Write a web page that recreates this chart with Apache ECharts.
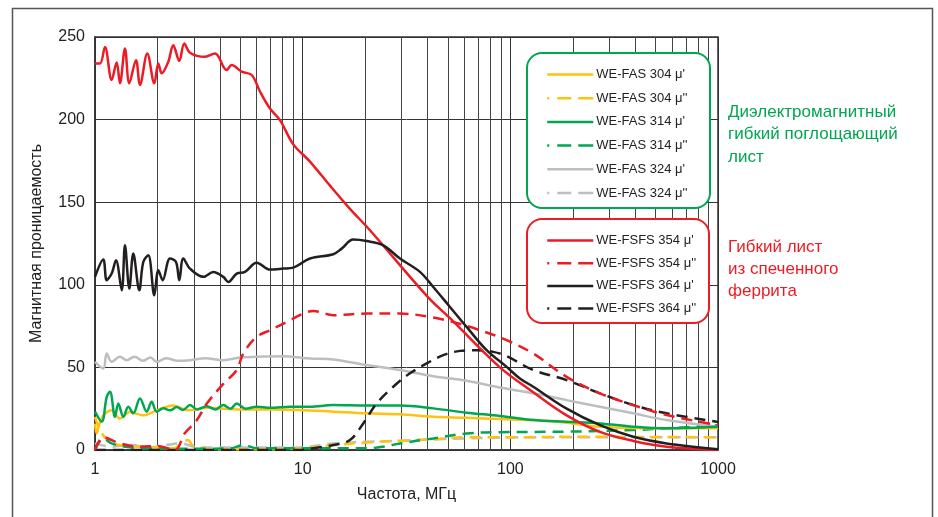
<!DOCTYPE html>
<html><head><meta charset="utf-8">
<script src="https://cdn.jsdelivr.net/npm/echarts@6/dist/echarts.min.js"></script>
<style>html,body{margin:0;padding:0;background:#fff}#c{width:938px;height:517px}</style>
</head><body><div id="c"></div><script>
// ---- data: [frequency MHz, permeability] ----
var fas304Re = [[1,16],[1.019,10],[1.057,17],[1.117,22],[1.2,24],[1.319,19],[1.474,23],[1.7,21],[1.982,24],[2.382,27],[2.8,24],[3.5,25.5],[5,24.5],[7,24.5],[9.705,24.2],[14.04,23.2],[20.33,22.2],[29.41,21.6],[42.55,20.1],[61.6,19.5],[89.1,18.7],[128.9,18.1],[186.7,16.5],[270,14.1],[540,13.1],[1000,13.1]];
var fas304Im = [[1,20],[1.057,12],[1.15,6],[1.3,3],[1.6,2],[2.0,1.5],[2.4,1],[2.6,4],[2.8,6],[3.0,2],[4,0.5],[6,0.5],[10,1],[14.04,3],[20.33,4.5],[29.41,5.6],[42.55,6.4],[61.6,7.7],[111.2,7.7],[200,8],[1000,7.7]];
var fas314Re = [[1,23.2],[1.077,17.1],[1.139,32.2],[1.181,35.3],[1.248,20.1],[1.295,28.2],[1.369,20.1],[1.447,26.2],[1.529,22.2],[1.647,31.2],[1.774,23.2],[1.875,29.2],[1.982,23.2],[2.133,25.2],[2.3,24],[2.474,26],[2.65,24.2],[2.867,27.2],[3.1,24.5],[3.45,26.5],[3.8,24.5],[4.147,27.2],[4.5,25],[4.811,28.2],[5.3,25],[6.004,26.2],[7,25.5],[8.688,26.2],[10.84,26.2],[14.04,27.2],[20.33,26.9],[29.41,26.9],[42.55,25.2],[61.6,22.6],[89.1,20.6],[128.9,18.1],[186.7,17.1],[270,16.1],[390.7,14.1],[565.6,13.1],[1000,14]];
var fas314Im = [[1,0],[1.096,7],[1.2,4],[1.4,2],[1.8,1],[3,0.8],[4.5,1],[5.2,3],[6,1],[10,1],[20.33,1],[24.44,2],[29.41,4],[42.55,7],[61.6,10],[89.1,10.8],[186.7,11.1],[390.7,12.1],[565.6,13.1],[1000,15]];
var fas324Re = [[1,53.4],[1.096,49.4],[1.139,58.4],[1.203,53.4],[1.319,56.4],[1.421,54.4],[1.55,56.5],[1.7,54],[1.85,56],[1.982,53.4],[2.2,55.5],[2.5,54],[2.867,54.4],[3.4,55.5],[4.147,54.4],[5,56],[6.004,56.4],[8.066,56.8],[10.84,55.4],[14.04,54.8],[20.33,51.4],[29.41,48.4],[42.55,44.7],[61.6,41.9],[89.1,37.8],[128.9,34.3],[186.7,30.2],[270,26.2],[390.7,22.2],[565.6,18.1],[1000,14]];
var fas324Im = [[1,4],[1.2,2],[1.5,3],[1.8,1.5],[2.2,3],[2.6,4],[3,2],[4,1.5],[6,1.5],[9.705,1.6],[14.04,4],[20.33,5],[29.41,5.6],[42.55,6.4],[61.6,7],[111.2,7.7],[270,7.7],[1000,7.7]];
var fsfs354Re = [[1,234],[1.057,234],[1.117,244],[1.203,224],[1.272,234.5],[1.319,222],[1.394,243],[1.463,222],[1.575,236],[1.647,221],[1.786,240],[1.930,222],[2.018,234],[2.095,228],[2.254,235],[2.382,245],[2.546,235.5],[2.692,246],[2.867,240.5],[3.386,238],[3.783,240],[4.306,230],[4.551,233],[5.086,229],[5.683,227],[6.230,217],[6.961,206.7],[7.777,199.7],[9.012,185],[10.84,174.6],[13.54,160],[16.89,146],[21.09,133],[40,92.7],[51.2,79.8],[89.1,50],[128.9,35],[186.7,21],[270,11],[390.7,5.5],[565.6,2],[1000,0]];
var fsfs354Im = [[1,0],[1.096,7.7],[1.319,4],[1.647,2],[1.982,2.4],[2.428,0],[2.7,10],[3.09,18],[3.45,28],[4.147,40],[4.811,48.4],[5.176,58.4],[6.004,68.5],[6.961,72.5],[8.375,77.5],[10.07,82.6],[11.25,84.2],[14.04,81.6],[20.33,82.6],[29.41,82.6],[42.55,80.2],[55.14,76.9],[71.4,72.5],[96,66.5],[128.9,58.4],[186.7,44.3],[270,34.3],[390.7,27.2],[565.6,21.2],[1000,15]];
var fsfs364Re = [[1,104.8],[1.096,115.3],[1.139,102.8],[1.203,106.8],[1.262,114.8],[1.345,96.7],[1.394,123.9],[1.463,97.7],[1.529,118.9],[1.634,96.7],[1.708,113.8],[1.805,117.9],[1.930,93.7],[2.018,108.8],[2.118,102.8],[2.296,115.9],[2.455,113.8],[2.546,102.8],[2.662,115.9],[2.867,109.8],[3.323,104.8],[3.711,107.8],[4.147,104.8],[4.383,101.7],[4.811,106.8],[5.275,107.8],[6.004,113.4],[6.961,109.2],[8.066,109.8],[9.012,110.4],[10.84,115.9],[14.04,118.5],[15.41,121.9],[17.52,127.4],[20.33,126.5],[24.44,123.9],[29.41,115.9],[36.71,107.8],[42.55,98.7],[51.2,86.6],[61.6,74.5],[76.9,60.4],[96,50.3],[111.2,43.3],[128.9,38.3],[186.7,25],[270,15],[390.7,8],[565.6,4],[1000,0.5]];
var fsfs364Im = [[1,0],[9.705,0],[11.25,1],[14.04,3],[16.89,6],[19.58,16.1],[22.72,28.2],[27.31,38.3],[32.86,46.4],[39.54,52.4],[47.53,57.4],[57.19,60],[68.8,60.4],[82.8,59.4],[96,56.8],[128.9,48.4],[186.7,42.3],[270,34.3],[390.7,27.2],[565.6,22.2],[1000,17]];

var legendNames = ["WE-FAS 304 μ'", "WE-FAS 304 μ''", "WE-FAS 314 μ'", "WE-FAS 314 μ''", "WE-FAS 324 μ'", "WE-FAS 324 μ''",
                   "WE-FSFS 354 μ'", "WE-FSFS 354 μ''", "WE-FSFS 364 μ'", "WE-FSFS 364 μ''"];
var minorLines = [2,3,4,5,6,7,8,9,20,30,40,50,60,70,80,90,200,300,400,500,600,700,800,900];
var yTicks = [0, 250, 50];
var xRange = [1, 1000];

var C = {yellow:'#FFC20E', green:'#00A650', grey:'#BCBEC0', red:'#ED1C24', black:'#231F20'};
var DASH = [11, 7];
var FONT = 'Liberation Sans, Arial, sans-serif';

function ser(name, data, color, dashed, z) {
  return {
    name: name, type: 'line', data: data, smooth: 0.35, symbol: 'none', showSymbol: false, z: z,
    lineStyle: {color: color, width: 2.5, type: dashed ? DASH : 'solid'},
    itemStyle: {color: color}
  };
}

var series = [
  {name: 'grid', type: 'line', data: [], silent: true,
   markLine: {silent: true, z: 1, symbol: ['none','none'], label: {show: false},
     lineStyle: {color: '#444', width: 1, type: 'solid'},
     data: minorLines.map(function(v){ return {xAxis: v}; })}},
  ser(legendNames[5], fas324Im, C.grey, true, 2),
  ser(legendNames[1], fas304Im, C.yellow, true, 2),
  ser(legendNames[3], fas314Im, C.green, true, 2),
  ser(legendNames[4], fas324Re, C.grey, false, 2),
  ser(legendNames[0], fas304Re, C.yellow, false, 2),
  ser(legendNames[2], fas314Re, C.green, false, 2),
  ser(legendNames[9], fsfs364Im, C.black, true, 2),
  ser(legendNames[7], fsfs354Im, C.red, true, 2),
  ser(legendNames[6], fsfs354Re, C.red, false, 2),
  ser(legendNames[8], fsfs364Re, C.black, false, 2)
];

function legItem(n, dashed) {
  var o = {name: n, itemStyle: {opacity: 0, borderWidth: 0}, lineStyle: {width: 2.5}};
  if (dashed) o.lineStyle.type = [2, 8, 14, 7, 14, 0];
  return o;
}

var chart = echarts.init(document.getElementById('c'), null, {renderer: 'canvas'});
chart.setOption({
  animation: false,
  backgroundColor: '#fff',
  textStyle: {fontFamily: FONT},
  grid: {left: 95, top: 37, right: 220, bottom: 67, show: true, borderColor: '#333', borderWidth: 1.5, containLabel: false},
  xAxis: {
    type: 'log', logBase: 10, min: xRange[0], max: xRange[1],
    name: 'Частота, МГц', nameLocation: 'middle', nameGap: 37,
    nameTextStyle: {fontSize: 16, color: '#222', fontFamily: FONT},
    axisLine: {show: true, lineStyle: {color: '#333', width: 1.5}},
    axisTick: {show: false},
    axisLabel: {fontSize: 16, color: '#222', margin: 12, fontFamily: FONT,
      formatter: function(v){ return String(Math.round(v)); }},
    splitLine: {show: true, lineStyle: {color: '#333', width: 1}},
    minorTick: {show: false}, minorSplitLine: {show: false}
  },
  yAxis: {
    type: 'value', min: yTicks[0], max: yTicks[1], interval: yTicks[2],
    name: 'Магнитная проницаемость', nameLocation: 'middle', nameGap: 50, nameRotate: 90,
    nameTextStyle: {fontSize: 16, color: '#222', fontFamily: FONT},
    axisLine: {show: true, lineStyle: {color: '#333', width: 1.5}},
    axisTick: {show: false},
    axisLabel: {fontSize: 16, color: '#222', margin: 10, fontFamily: FONT},
    splitLine: {show: true, lineStyle: {color: '#333', width: 1}}
  },
  legend: [
    {orient: 'vertical', left: 541, top: 63, itemWidth: 46, itemHeight: 14, itemGap: 10.7,
     itemStyle: {opacity: 0, borderWidth: 0},
     textStyle: {fontSize: 13, color: '#222', fontFamily: FONT, padding: [0, 0, 0, -2]},
     data: legendNames.slice(0, 6).map(function(n, i){ return legItem(n, i % 2 === 1); })},
    {orient: 'vertical', left: 541, top: 229, itemWidth: 46, itemHeight: 14, itemGap: 9.7,
     itemStyle: {opacity: 0, borderWidth: 0},
     textStyle: {fontSize: 13, color: '#222', fontFamily: FONT, padding: [0, 0, 0, -2]},
     data: legendNames.slice(6).map(function(n, i){ return legItem(n, i % 2 === 1); })}
  ],
  graphic: [
    {type: 'rect', z: 0, silent: true, shape: {x: 12.5, y: 8.5, width: 920, height: 540},
     style: {fill: 'none', stroke: '#555', lineWidth: 1.5}},
    {type: 'rect', z: 3, silent: true, shape: {x: 527, y: 53, width: 183, height: 155, r: 15},
     style: {fill: '#fff', stroke: C.green, lineWidth: 2}},
    {type: 'rect', z: 3, silent: true, shape: {x: 527, y: 219, width: 182, height: 104, r: 15},
     style: {fill: '#fff', stroke: C.red, lineWidth: 2}},
    {type: 'text', z: 5, left: 728, top: 101, silent: true,
     style: {text: 'Диэлектромагнитный\nгибкий поглощающий\nлист', fill: '#00A651', font: '17px ' + FONT, lineHeight: 22.5}},
    {type: 'text', z: 5, left: 728, top: 236, silent: true,
     style: {text: 'Гибкий лист\nиз спеченного\nферрита', fill: C.red, font: '17px ' + FONT, lineHeight: 22}}
  ],
  series: series
});
</script></body></html>
